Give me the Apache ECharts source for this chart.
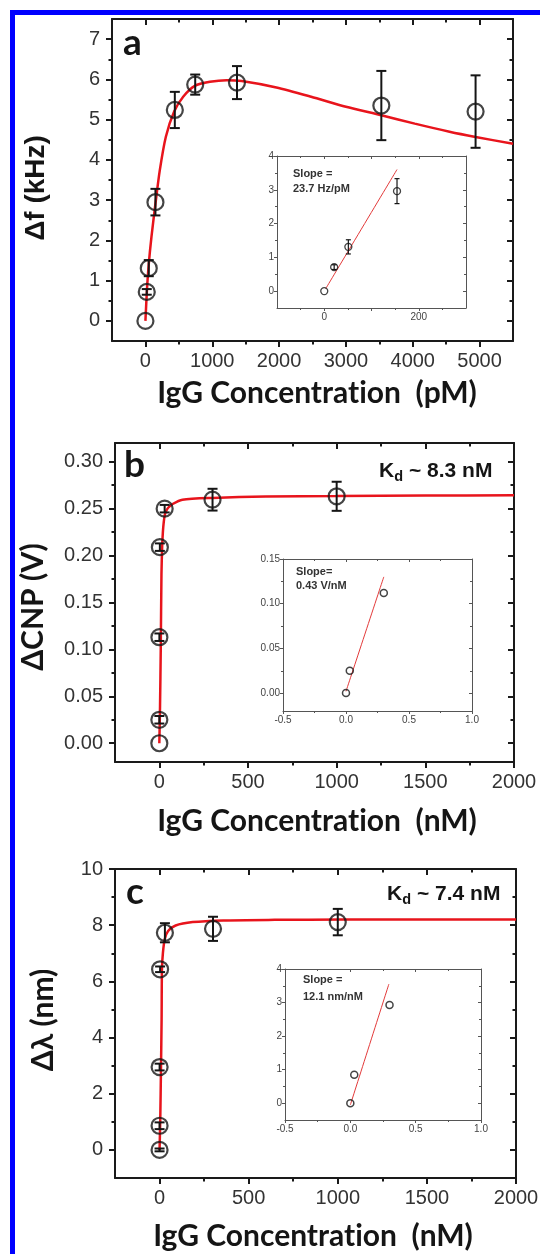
<!DOCTYPE html>
<html lang="en">
<head>
<meta charset="UTF-8">
<title>IgG binding curves</title>
<style>
    html, body, #chart {
        margin: 0;
        padding: 0;
        width: 100%;
        height: 100%;
        background: #fff;
    }
</style>
</head>
<body>
<div id="chart"></div>
<script src="https://cdn.jsdelivr.net/npm/echarts@6/dist/echarts.min.js"></script>
<script>
    // ---- panel a : frequency shift vs IgG (pM)
    var aConc  = [0, 20, 50, 150, 440, 745, 1370, 3530, 4940];
    var aShift = [0, 0.72, 1.31, 2.95, 5.24, 5.87, 5.92, 5.35, 5.2];
    var aErr   = [0, 0.07, 0.2, 0.33, 0.45, 0.25, 0.41, 0.86, 0.9];
    var aFitX  = [0, 25, 50, 90, 150, 215, 305, 430, 565, 740, 965, 1215, 1440, 1960, 2480, 3000, 3530, 4030, 4550, 4940, 5500];
    var aFitY  = [0, 0.83, 1.41, 2.08, 2.91, 3.74, 4.57, 5.2, 5.57, 5.84, 5.94, 5.98, 5.96, 5.8, 5.57, 5.32, 5.11, 4.9, 4.7, 4.57, 4.4];
    // inset a
    var aInConc  = [0, 21, 51, 154];
    var aInShift = [0, 0.71, 1.31, 2.96];
    var aInErr   = [0, 0.07, 0.21, 0.37];
    var aInFitX  = [3, 154];
    var aInFitY  = [0.07, 3.6];

    // ---- panel b : CNP shift vs IgG (nM)
    var bConc = [0, 0.03, 0.3, 3, 30, 300, 1000];
    var bCnp  = [0, 0.025, 0.113, 0.209, 0.25, 0.2596, 0.2632];
    var bErr  = [0, 0.004, 0.004, 0.004, 0.004, 0.0116, 0.0155];
    var bFitX = [0, 4, 8, 12, 16, 20, 25, 31, 40, 50, 75, 130, 300, 600, 1000, 1500, 2000];
    var bFitY = [0, 0.04, 0.1, 0.18, 0.21, 0.225, 0.236, 0.2436, 0.248, 0.251, 0.255, 0.2596, 0.2615, 0.263, 0.2635, 0.264, 0.2643];
    // inset b
    var bInConc = [0, 0.03, 0.3];
    var bInCnp  = [0, 0.025, 0.112];
    var bInFitX = [0, 0.3];
    var bInFitY = [0.002, 0.13];

    // ---- panel c : wavelength shift vs IgG (nM)
    var cConc  = [0, 0.03, 0.3, 3, 30, 300, 1000];
    var cShift = [0, 0.86, 2.95, 6.43, 7.73, 7.87, 8.11];
    var cErr   = [0.05, 0.12, 0.12, 0.1, 0.34, 0.43, 0.47];
    var cFitX  = [0, 4, 8, 11.5, 13.4, 19, 29, 48, 90, 186, 358, 646, 1030, 1500, 2000];
    var cFitY  = [0, 1.1, 2.9, 4.66, 6.43, 7.02, 7.5, 7.79, 7.99, 8.11, 8.17, 8.19, 8.2, 8.2, 8.2];
    // inset c
    var cInConc  = [0, 0.03, 0.3];
    var cInShift = [0, 0.85, 2.93];
    var cInFitX  = [0, 0.295];
    var cInFitY  = [-0.05, 3.55];

    // ---- ticks
    var aXTicks = [0, 1000, 2000, 3000, 4000, 5000];
    var aXMinor = [500, 1500, 2500, 3500, 4500];
    var aYTicks = [0, 1, 2, 3, 4, 5, 6, 7];
    var aYMinor = [0.5, 1.5, 2.5, 3.5, 4.5, 5.5, 6.5];
    var aInXTicks  = [0, 100, 200];
    var aInXLabels = [0, 200];
    var aInXMinor  = [-50, 50, 150, 250];
    var aInYTicks  = [0, 1, 2, 3, 4];
    var aInYMinor  = [0.5, 1.5, 2.5, 3.5];
    var nmXTicks = [0, 500, 1000, 1500, 2000];
    var nmXMinor = [250, 750, 1250, 1750];
    var bYTicks = [0, 0.05, 0.1, 0.15, 0.2, 0.25, 0.3];
    var bYMinor = [0.025, 0.075, 0.125, 0.175, 0.225, 0.275];
    var inXTicks = [-0.5, 0, 0.5, 1];
    var inXMinor = [-0.25, 0.25, 0.75];
    var bInYTicks = [0, 0.05, 0.1, 0.15];
    var bInYMinor = [0.025, 0.075, 0.125];
    var cYTicks = [0, 2, 4, 6, 8, 10];
    var cYMinor = [1, 3, 5, 7, 9];
    var cInYTicks = [0, 1, 2, 3, 4];
    var cInYMinor = [0.5, 1.5, 2.5, 3.5];

    var RED = '#e8141c';
    var INK = '#151515';

    var mainStyle = { color: '#1a1a1a', width: 2, tick: 6, minor: 3.5, font: 20, label: '#333', xMargin: 10, yMargin: 12 };
    var insetStyle = { color: '#555', width: 1, tick: 3, minor: 2, font: 10, label: '#444', xMargin: 4, yMargin: 3 };

    var grids = [], xAxes = [], yAxes = [];

    function axis(gi, pos, range, ticks, labels, dec, len, inside, line, s, margin) {
        return {
            type: 'value', gridIndex: gi, position: pos,
            min: range[0], max: range[1],
            splitLine: { show: false },
            axisPointer: { show: false },
            axisLine: { show: line, onZero: false, lineStyle: { color: s.color, width: s.width } },
            axisTick: { show: true, inside: inside, length: len, customValues: ticks,
                        lineStyle: { color: s.color, width: s.width } },
            axisLabel: labels ? {
                show: true, customValues: labels, margin: margin,
                fontFamily: '"Liberation Sans", Arial, sans-serif', fontSize: s.font, color: s.label,
                formatter: function (v) { return v.toFixed(dec); }
            } : { show: false }
        };
    }

    // one boxed frame: ticks out on left/bottom, mirrored inward on top/right
    function frame(box, xr, yr, xt, xl, xm, xd, yt, yl, ym, yd, s) {
        var gi = grids.length;
        grids.push({ left: box[0], top: box[1], width: box[2], height: box[3], outerBoundsMode: 'none' });
        var xi = xAxes.length, yi = yAxes.length;
        xAxes.push(axis(gi, 'bottom', xr, xt, xl, xd, s.tick, false, true, s, s.xMargin));
        xAxes.push(axis(gi, 'bottom', xr, xm, null, xd, s.minor, false, false, s));
        xAxes.push(axis(gi, 'top', xr, xt, null, xd, s.tick, true, true, s));
        xAxes.push(axis(gi, 'top', xr, xm, null, xd, s.minor, true, false, s));
        yAxes.push(axis(gi, 'left', yr, yt, yl, yd, s.tick, false, true, s, s.yMargin));
        yAxes.push(axis(gi, 'left', yr, ym, null, yd, s.minor, false, false, s));
        yAxes.push(axis(gi, 'right', yr, yt, null, yd, s.tick, true, true, s));
        yAxes.push(axis(gi, 'right', yr, ym, null, yd, s.minor, true, false, s));
        return { x: xi, y: yi };
    }

    function pairs(xs, ys) {
        return xs.map(function (x, i) { return [x, ys[i]]; });
    }

    function fit(f, xs, ys, width, color) {
        return {
            type: 'line', xAxisIndex: f.x, yAxisIndex: f.y, data: pairs(xs, ys),
            symbol: 'none', showSymbol: false, smooth: 0.25, silent: true, z: 3,
            lineStyle: { color: color, width: width }
        };
    }

    function points(f, xs, ys, size, bw) {
        return {
            type: 'scatter', xAxisIndex: f.x, yAxisIndex: f.y, data: pairs(xs, ys),
            symbol: 'circle', symbolSize: size, silent: true, z: 5,
            itemStyle: { color: 'rgba(255,255,255,0)', borderColor: INK, borderWidth: bw }
        };
    }

    function errors(f, xs, ys, es, cap, w) {
        return {
            type: 'custom', xAxisIndex: f.x, yAxisIndex: f.y, silent: true, z: 4,
            data: xs.map(function (x, i) { return [x, ys[i], es[i]]; }),
            renderItem: function (p, api) {
                var xv = api.value(0), yv = api.value(1), e = api.value(2);
                if (!e) return { type: 'group', children: [] };
                var t = api.coord([xv, yv + e]), b = api.coord([xv, yv - e]);
                var st = { stroke: INK, lineWidth: w };
                return { type: 'group', children: [
                    { type: 'line', shape: { x1: t[0], y1: t[1], x2: b[0], y2: b[1] }, style: st },
                    { type: 'line', shape: { x1: t[0] - cap, y1: t[1], x2: t[0] + cap, y2: t[1] }, style: st },
                    { type: 'line', shape: { x1: b[0] - cap, y1: b[1], x2: b[0] + cap, y2: b[1] }, style: st }
                ] };
            }
        };
    }

    var fa  = frame([112, 19, 401, 322], [-500, 5500], [-0.5, 7.5], aXTicks, aXTicks, aXMinor, 0, aYTicks, aYTicks, aYMinor, 0, mainStyle);
    var fai = frame([277, 156, 189, 152], [-100, 300], [-0.5, 4], aInXTicks, aInXLabels, aInXMinor, 0, aInYTicks, aInYTicks, aInYMinor, 0, insetStyle);
    var fb  = frame([115, 443, 399, 319], [-250, 2000], [-0.02, 0.32], nmXTicks, nmXTicks, nmXMinor, 0, bYTicks, bYTicks, bYMinor, 2, mainStyle);
    var fbi = frame([283, 559, 189, 152], [-0.5, 1], [-0.02, 0.15], inXTicks, inXTicks, inXMinor, 1, bInYTicks, bInYTicks, bInYMinor, 2, insetStyle);
    var fc  = frame([115, 869, 401, 309], [-250, 2000], [-1, 10], nmXTicks, nmXTicks, nmXMinor, 0, cYTicks, cYTicks, cYMinor, 0, mainStyle);
    var fci = frame([285, 969, 196, 151], [-0.5, 1], [-0.5, 4], inXTicks, inXTicks, inXMinor, 1, cInYTicks, cInYTicks, cInYMinor, 0, insetStyle);

    var series = [
        fit(fa, aFitX, aFitY, 2.5, RED),
        errors(fa, aConc, aShift, aErr, 5, 2),
        points(fa, aConc, aShift, 16, 2.2),
        fit(fai, aInFitX, aInFitY, 1, '#e33a3a'),
        errors(fai, aInConc, aInShift, aInErr, 2.5, 1.2),
        points(fai, aInConc, aInShift, 7, 1.3),

        fit(fb, bFitX, bFitY, 2.5, RED),
        errors(fb, bConc, bCnp, bErr, 5, 2),
        points(fb, bConc, bCnp, 16, 2.2),
        fit(fbi, bInFitX, bInFitY, 1, '#e33a3a'),
        points(fbi, bInConc, bInCnp, 7, 1.5),

        fit(fc, cFitX, cFitY, 2.5, RED),
        errors(fc, cConc, cShift, cErr, 5, 2),
        points(fc, cConc, cShift, 16, 2.2),
        fit(fci, cInFitX, cInFitY, 1, '#e33a3a'),
        points(fci, cInConc, cInShift, 7, 1.5)
    ];

    function txt(x, y, s, font, opt) {
        opt = opt || {};
        return {
            type: 'text', x: x, y: y, rotation: opt.rot || 0, silent: true, z: 10,
            style: {
                text: s, font: font, fill: opt.fill || INK,
                textAlign: opt.align || 'left', textVerticalAlign: opt.va || 'middle',
                lineHeight: opt.lh
            }
        };
    }

    var TITLE = 'bold 30px Lato, "DejaVu Sans", sans-serif';
    var KD = 'bold 21px "Liberation Sans", Arial, sans-serif';
    var KD_SUB = 'bold 14.5px "Liberation Sans", Arial, sans-serif';
    var SLOPE = 'bold 11px "Liberation Sans", Arial, sans-serif';
    var LETTER = 'bold 37px Lato, sans-serif';
    // zero-width non-joiner keeps Lato from forming its "ti" ligature
    var X_PM = 'IgG Concentrat\u200Cion  (pM)';
    var X_NM = 'IgG Concentrat\u200Cion  (nM)';

    var graphic = [
        { type: 'rect', shape: { x: 10, y: 10, width: 530, height: 5 }, style: { fill: '#0000ff' }, silent: true },
        { type: 'rect', shape: { x: 10, y: 10, width: 5, height: 1244 }, style: { fill: '#0000ff' }, silent: true },

        txt(123, 43, 'a', LETTER),
        txt(124, 465.5, 'b', LETTER),
        txt(126, 892, 'c', LETTER),

        txt(317, 393, X_PM, TITLE, { align: 'center' }),
        txt(317, 821, X_NM, TITLE, { align: 'center' }),
        txt(313, 1236, X_NM, TITLE, { align: 'center' }),

        txt(36, 188, 'Δf (kHz)', 'bold 28px "Liberation Sans", Arial, sans-serif', { align: 'center', rot: Math.PI / 2 }),
        txt(33, 607, 'ΔCNP (V)', TITLE, { align: 'center', rot: Math.PI / 2 }),
        txt(43, 1020, 'Δλ (nm)', TITLE, { align: 'center', rot: Math.PI / 2 }),

        txt(379, 471, 'K', KD),
        txt(394.2, 477, 'd', KD_SUB),
        txt(403.1, 471, ' ~ 8.3 nM', KD),
        txt(387, 894, 'K', KD),
        txt(402.2, 900, 'd', KD_SUB),
        txt(411.1, 894, ' ~ 7.4 nM', KD),

        txt(293, 166, 'Slope =\n23.7 Hz/pM', SLOPE, { va: 'top', lh: 15.3, fill: '#333' }),
        txt(296, 565.5, 'Slope=\n0.43 V/nM', SLOPE, { va: 'top', lh: 13.7, fill: '#333' }),
        txt(303, 971.3, 'Slope =\n12.1 nm/nM', SLOPE, { va: 'top', lh: 17.3, fill: '#333' })
    ];

    var myChart = echarts.init(document.getElementById('chart'));
    myChart.setOption({
        animation: false,
        backgroundColor: '#fff',
        grid: grids,
        xAxis: xAxes,
        yAxis: yAxes,
        series: series,
        graphic: graphic
    });

    window.addEventListener('resize', function () {
        myChart.resize();
    });
</script>
</body>
</html>
